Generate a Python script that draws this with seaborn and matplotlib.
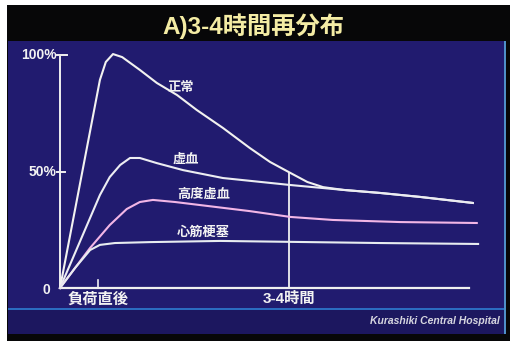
import pandas as pd
import numpy as np
import matplotlib
matplotlib.use('Agg')
import matplotlib.pyplot as plt
import seaborn as sns
from matplotlib.patches import Rectangle

# time axis (hours after exercise, 3-4h mark at 3.5) and uptake (%)
t_normal = [0, 0.61, 0.70, 0.81, 0.95, 1.22, 1.48, 1.79, 2.09, 2.49, 2.90, 3.21,
            3.52, 3.78, 4.02, 4.33, 4.89, 5.50, 6.31]
v_normal = [0, 89.3, 97.0, 100.4, 99.1, 93.6, 88.0, 82.8, 76.4, 68.7, 60.1, 54.1,
            49.4, 45.5, 43.3, 42.1, 40.8, 39.1, 36.5]

t_ischemia = [0, 0.61, 0.76, 0.92, 1.07, 1.22, 1.48, 1.88, 2.49, 3.52, 4.02, 4.33, 4.89, 5.50, 6.31]
v_ischemia = [0, 39.9, 47.6, 52.8, 55.8, 55.8, 53.6, 50.6, 47.2, 44.2, 42.9, 42.1, 40.8, 39.1, 36.5]

t_severe = [0, 0.23, 0.46, 0.76, 1.02, 1.22, 1.42, 1.76, 2.14, 2.90, 3.52, 4.17, 5.20, 6.37]
v_severe = [0, 8.6, 17.2, 27.0, 33.9, 36.9, 37.8, 36.9, 35.6, 33.0, 30.5, 29.2, 28.3, 27.9]

t_infarct = [0, 0.23, 0.46, 0.61, 0.84, 1.38, 2.45, 4.89, 6.39]
v_infarct = [0, 8.6, 16.3, 18.5, 19.3, 19.7, 20.2, 19.3, 18.9]

curve_names = ['正常', '虚血', '高度虚血', '心筋梗塞']
curve_colors = ['#f2f2f0', '#ecedf2', '#f2b6e6', '#e8ecf0']
label_pos = [(1.85, 86.0), (1.93, 55.0), (2.19, 40.0), (2.19, 23.6)]

y_ticks = [0, 50, 100]
y_tick_labels = ['0', '50%', '100%']
x_ticks = [0.58, 3.5]
x_tick_labels = ['負荷直後', '3-4時間']
x_end = 6.25

title = 'A)3-4時間再分布'
footer = 'Kurashiki Central Hospital'

df = pd.concat([
    pd.DataFrame({'t': t_normal, 'v': v_normal, 'curve': curve_names[0]}),
    pd.DataFrame({'t': t_ischemia, 'v': v_ischemia, 'curve': curve_names[1]}),
    pd.DataFrame({'t': t_severe, 'v': v_severe, 'curve': curve_names[2]}),
    pd.DataFrame({'t': t_infarct, 'v': v_infarct, 'curve': curve_names[3]}),
], ignore_index=True)

W, H = 515, 346
fig = plt.figure(figsize=(W / 100, H / 100), dpi=100)
fig.patch.set_facecolor('white')

def px_rect(x0, y0, x1, y1, color, **kw):
    fig.patches.append(Rectangle((x0 / W, 1 - y1 / H), (x1 - x0) / W, (y1 - y0) / H,
                                 transform=fig.transFigure, facecolor=color,
                                 edgecolor='none', zorder=-5, **kw))

# slide frame
px_rect(7, 5, 510, 341, '#070708')
px_rect(8, 41, 505, 308, '#211b6f')
px_rect(8, 308, 505, 334, '#1c175f')
px_rect(8, 307.5, 505, 310, '#2b6cc0')
px_rect(504, 41, 506, 334, '#4f8fc8')

cjk = ['Liberation Sans', 'Noto Sans CJK JP']
fig.text(253 / W, 1 - 26 / H, title, ha='center', va='center', fontsize=17.5,
         fontweight='bold', color='#f4eca4', family=cjk)
fig.text(500 / W, 1 - 321 / H, footer, ha='right', va='center', fontsize=7.5,
         fontweight='bold', fontstyle='italic', color='#d6d6e0', family=cjk)

# axes: x=0 at px 60, 65.43 px per unit; y=0 at px 288, 2.33 px per %
ax = fig.add_axes([40 / W, 1 - 295 / H, 450 / W, 250 / H])
ax.set_zorder(5)
ax.set_facecolor('none')
ax.set_xlim((40 - 60) / 65.43, (490 - 60) / 65.43)
ax.set_ylim(-(295 - 288) / 2.33, (288 - 45) / 2.33)
for s in ax.spines.values():
    s.set_visible(False)
ax.set_xticks([])
ax.set_yticks([])

axis_col = '#f0f0f0'
ax.plot([0, 0], [0, 99], color=axis_col, lw=1.4)
ax.plot([0, x_end], [0, 0], color=axis_col, lw=1.6)
ax.plot([-0.05, 0.1], [100, 100], color=axis_col, lw=1.4)
ax.plot([-0.05, 0.08], [50, 50], color=axis_col, lw=1.4)
ax.plot([x_ticks[0], x_ticks[0]], [0, 3.4], color=axis_col, lw=1.2)
# 3-4h marker up to the normal curve
ax.plot([x_ticks[1], x_ticks[1]], [0, 49.4], color=axis_col, lw=1.3)

sns.lineplot(data=df, x='t', y='v', hue='curve', palette=dict(zip(curve_names, curve_colors)),
             estimator=None, sort=False, legend=False, linewidth=1.5, ax=ax)

for name, (lx, ly) in zip(curve_names, label_pos):
    ax.text(lx, ly, name, ha='center', va='center', fontsize=9.5, fontweight='bold',
            color='#f2f2f2', family=cjk)

for yv, lab in zip(y_ticks, y_tick_labels):
    ax.text(-0.05 if yv else -0.15, yv + (-1 if yv == 0 else 0), lab, ha='right', va='center',
            fontsize=10, fontweight='bold', color='#f2f2f2', family=cjk)

for xv, lab in zip(x_ticks, x_tick_labels):
    ax.text(xv, -4.8, lab, ha='center', va='center', fontsize=11, fontweight='bold',
            color='#f2f2f2', family=cjk, clip_on=False)

ax.set_xlabel('')
ax.set_ylabel('')
fig.savefig('out.png', dpi=100)
